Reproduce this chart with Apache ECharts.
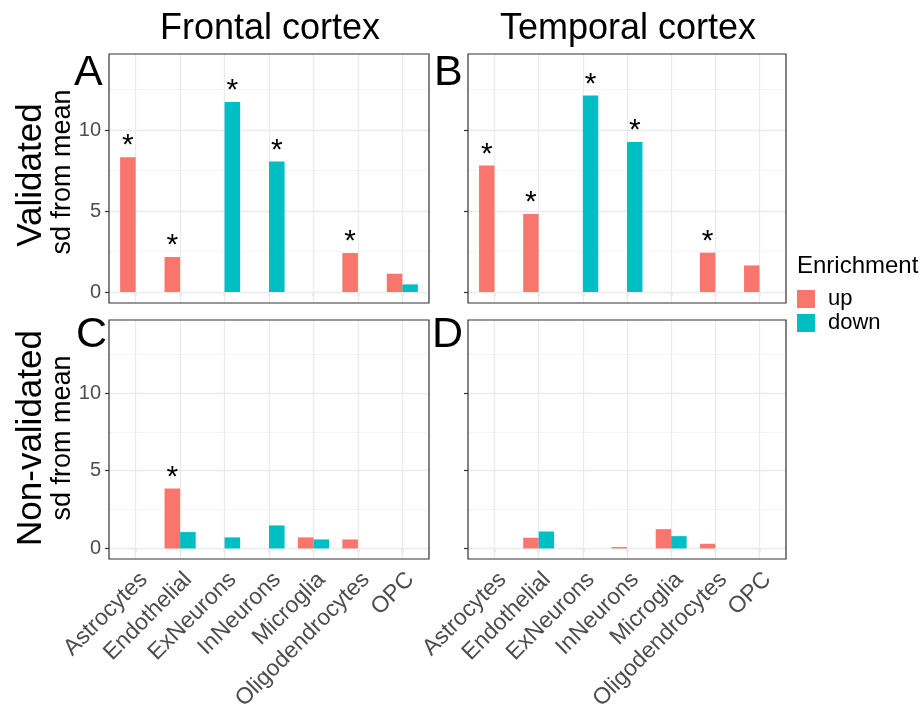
<!DOCTYPE html>
<html><head><meta charset="utf-8">
<script src="https://cdn.jsdelivr.net/npm/echarts@6/dist/echarts.min.js"></script>
<style>html,body{margin:0;padding:0;background:#fff}#c{width:921px;height:705px}</style>
</head><body><div id="c"></div>
<script>
// ---------- data ----------
const categories = ['Astrocytes','Endothelial','ExNeurons','InNeurons','Microglia','Oligodendrocytes','OPC'];
const seriesNames = ['up','down'];
const yTicks = [0, 5, 10];
const yMinorTicks = [2.5, 7.5, 12.5];

const frontalValidatedUp   = [8.33, 2.16, null, null, null, 2.41, 1.13];
const frontalValidatedDown = [null, null, 11.73, 8.06, null, null, 0.47];
const temporalValidatedUp   = [7.81, 4.81, null, null, null, 2.43, 1.64];
const temporalValidatedDown = [null, null, 12.14, 9.26, null, null, null];
const frontalNonValidatedUp   = [null, 3.85, null, null, 0.71, 0.58, null];
const frontalNonValidatedDown = [null, 1.05, 0.71, 1.48, 0.58, null, null];
const temporalNonValidatedUp   = [null, 0.69, null, 0.09, 1.24, 0.30, null];
const temporalNonValidatedDown = [null, 1.09, null, null, 0.79, null, null];

const frontalValidatedUpSig   = [1,1,0,0,0,1,0];
const frontalValidatedDownSig = [0,0,1,1,0,0,0];
const temporalValidatedUpSig   = [1,1,0,0,0,1,0];
const temporalValidatedDownSig = [0,0,1,1,0,0,0];
const frontalNonValidatedUpSig   = [0,1,0,0,0,0,0];
const frontalNonValidatedDownSig = [0,0,0,0,0,0,0];
const temporalNonValidatedUpSig   = [0,0,0,0,0,0,0];
const temporalNonValidatedDownSig = [0,0,0,0,0,0,0];

const columnTitles = ['Frontal cortex','Temporal cortex'];
const rowTitles = ['Validated','Non-validated'];
const rowSubTitle = 'sd from mean';
const panelTags = ['A','B','C','D'];
const legendTitle = 'Enrichment';

// ---------- layout ----------
const Y_MIN = -0.68, Y_MAX = 14.7;
const FONT = '"Liberation Sans", Arial, sans-serif';
const UP_COLOR = '#F8766D', DOWN_COLOR = '#00BFC4';
const panels = [
  {rect:[109,54,320,249], up:frontalValidatedUp, down:frontalValidatedDown, upSig:frontalValidatedUpSig, downSig:frontalValidatedDownSig, yLab:true, xLab:false},
  {rect:[468,54,318,249], up:temporalValidatedUp, down:temporalValidatedDown, upSig:temporalValidatedUpSig, downSig:temporalValidatedDownSig, yLab:false, xLab:false},
  {rect:[109,320,320,239], up:frontalNonValidatedUp, down:frontalNonValidatedDown, upSig:frontalNonValidatedUpSig, downSig:frontalNonValidatedDownSig, yLab:true, xLab:true},
  {rect:[468,320,318,239], up:temporalNonValidatedUp, down:temporalNonValidatedDown, upSig:temporalNonValidatedUpSig, downSig:temporalNonValidatedDownSig, yLab:false, xLab:true}
];

const grid = [], xAxis = [], yAxis = [], series = [];
panels.forEach((p, i) => {
  const [l, t, w, h] = p.rect;
  const inset = w / 72; // ggplot 0.6 expansion vs echarts 0.5
  const fi = 2*i, di = 2*i+1;
  grid.push({left:l, top:t, width:w, height:h, show:true, z:10, backgroundColor:'transparent', borderColor:'#333333', borderWidth:1.2, outerBoundsMode:'none', containLabel:false});
  grid.push({left:l+inset, top:t, width:w-2*inset, height:h, outerBoundsMode:'none', containLabel:false});
  xAxis.push({gridIndex:fi, type:'value', min:0, max:1, show:false});
  xAxis.push({gridIndex:di, type:'category', data:categories,
    axisLine:{show:false},
    axisTick:{show:true, alignWithLabel:true, length:4, lineStyle:{color:'#333333', width:1.2}},
    axisLabel:{show:p.xLab, rotate:45, interval:0, fontSize:23, color:'#4D4D4D', fontFamily:FONT, margin:9, verticalAlign:'top', align:'right'},
    splitLine:{show:false}});
  yAxis.push({gridIndex:fi, type:'value', min:Y_MIN, max:Y_MAX,
    axisLine:{show:false},
    axisTick:{show:true, customValues:yTicks, length:4, lineStyle:{color:'#333333', width:1.2}},
    axisLabel:{show:p.yLab, customValues:yTicks, fontSize:20, color:'#4D4D4D', fontFamily:FONT, margin:8},
    splitLine:{show:false}});
  yAxis.push({gridIndex:di, type:'value', min:Y_MIN, max:Y_MAX, show:false, splitLine:{show:false}});
  series.push({type:'line', xAxisIndex:fi, yAxisIndex:fi, data:[], silent:true,
    markLine:{silent:true, symbol:['none','none'], label:{show:false}, z:1, animation:false,
      data: yTicks.map(v => ({yAxis:v, lineStyle:{color:'#EBEBEB', width:1.3, type:'solid'}}))
        .concat(yMinorTicks.map(v => ({yAxis:v, lineStyle:{color:'#F2F2F2', width:0.8, type:'solid'}})))}});
  series.push({type:'line', xAxisIndex:di, yAxisIndex:di, data:[], silent:true,
    markLine:{silent:true, symbol:['none','none'], label:{show:false}, z:1, animation:false,
      lineStyle:{color:'#EBEBEB', width:1.3, type:'solid'},
      data: categories.map(c => ({xAxis:c}))}});
  const mk = (name, data, sig, color) => ({
    type:'bar', name, xAxisIndex:di, yAxisIndex:di, data, barGap:'0%', barCategoryGap:'30%', z:2,
    itemStyle:{color}, emphasis:{disabled:true},
    label:{show:true, position:'top', distance:-4, color:'#000', fontSize:30, fontFamily:FONT,
      formatter: prm => sig[prm.dataIndex] ? '*' : ''}
  });
  series.push(mk('up', p.up, p.upSig, UP_COLOR));
  series.push(mk('down', p.down, p.downSig, DOWN_COLOR));
});

const txt = (text, x, y, size, opts={}) => Object.assign({type:'text', x, y, silent:true,
  style:{text, font:size+'px '+FONT, fill:opts.fill||'#000', align:opts.align||'center', verticalAlign:'middle'}}, opts.rot?{rotation:opts.rot}:{});

const graphic = [
  txt(columnTitles[0], 270, 29, 36),
  txt(columnTitles[1], 628, 29, 36),
  txt(panelTags[0], 74, 73, 43, {align:'left'}),
  txt(panelTags[1], 434, 73, 43, {align:'left'}),
  txt(panelTags[2], 76, 335, 43, {align:'left'}),
  txt(panelTags[3], 432, 335, 43, {align:'left'}),
  txt(rowTitles[0], 31, 175, 35, {rot:Math.PI/2}),
  txt(rowSubTitle, 63, 172, 27, {rot:Math.PI/2}),
  txt(rowTitles[1], 31, 438, 35, {rot:Math.PI/2}),
  txt(rowSubTitle, 63, 438, 27, {rot:Math.PI/2}),
  txt(legendTitle, 797, 266, 24, {align:'left'})
];

const chart = echarts.init(document.getElementById('c'), null, {renderer:'canvas'});
chart.setOption({
  animation:false,
  backgroundColor:'#ffffff',
  grid, xAxis, yAxis, series, graphic,
  legend:{data:seriesNames, orient:'vertical', left:797, top:288, padding:0, itemWidth:18, itemHeight:18, itemGap:2,
    icon:'rect', selectedMode:false,
    textStyle:{fontSize:22, color:'#000', fontFamily:FONT, padding:[0,0,0,8]}}
});
</script></body></html>
